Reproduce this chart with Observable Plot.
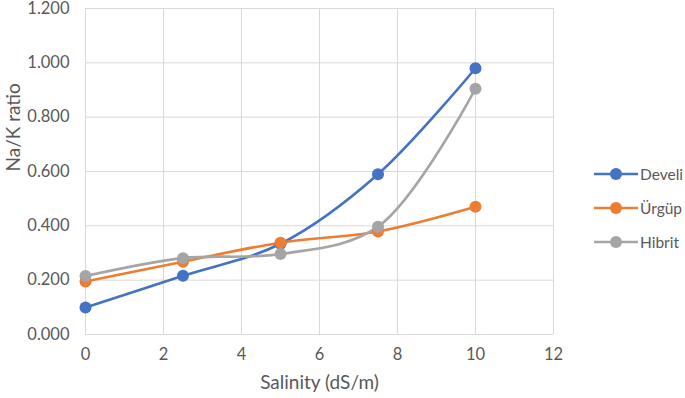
<!DOCTYPE html>
<html><head><meta charset="utf-8">
<script src="https://cdn.jsdelivr.net/npm/d3@7"></script>
<script src="https://cdn.jsdelivr.net/npm/@observablehq/plot@0.6"></script>
<style>
body{margin:0;background:#fff;font-family:Lato,"Open Sans",sans-serif;}
#wrap{position:relative;width:685px;height:398px;}
#legend{position:absolute;left:594px;top:157px;font-size:15.5px;color:#595959;}
#legend .row{display:flex;align-items:center;height:34px;}
#legend svg{margin-right:2px;}
</style></head><body>
<div id="wrap"><div id="chart"></div><div id="legend"></div></div>
<script>
const salinity = [0, 2.5, 5, 7.5, 10];
const develi = [0.099, 0.216, 0.334, 0.590, 0.980];
const urgup = [0.195, 0.268, 0.338, 0.379, 0.470];
const hibrit = [0.215, 0.281, 0.296, 0.397, 0.905];
const seriesNames = ["Develi", "Ürgüp", "Hibrit"];
const seriesColors = ["#4472C4", "#ED7D31", "#A5A5A5"];
const xTicks = [0, 2, 4, 6, 8, 10, 12];
const yTicks = [0, 0.2, 0.4, 0.6, 0.8, 1.0, 1.2];
const xLabel = "Salinity (dS/m)";
const yLabel = "Na/K ratio";

const seriesValues = [develi, urgup, hibrit];
const data = [];
seriesNames.forEach((name, i) => salinity.forEach((x, j) => data.push({series: name, x, y: seriesValues[i][j]})));

const plot = Plot.plot({
  width: 685, height: 398,
  marginLeft: 85, marginRight: 132, marginTop: 8, marginBottom: 64,
  style: {fontFamily: "Lato, 'Open Sans', sans-serif", fontSize: "16.5px", color: "#595959"},
  x: {domain: [0, 12], ticks: xTicks, tickSize: 0, tickPadding: 14, label: null},
  y: {domain: [0, 1.2], ticks: yTicks, tickSize: 0, tickPadding: 16, tickFormat: d3.format(".3f"), label: null},
  color: {domain: seriesNames, range: seriesColors},
  marks: [
    Plot.ruleX(xTicks, {stroke: "#d9d9d9", strokeWidth: 1}),
    Plot.ruleY(yTicks, {stroke: "#d9d9d9", strokeWidth: 1}),
    Plot.line(data, {x: "x", y: "y", z: "series", stroke: "series", strokeWidth: 2.6, curve: "catmull-rom"}),
    Plot.dot(data, {x: "x", y: "y", fill: "series", r: 6}),
    Plot.text([xLabel], {text: d => d, frameAnchor: "bottom", dy: 54, fontSize: 19, fill: "#595959"}),
    Plot.text([yLabel], {text: d => d, frameAnchor: "left", dx: -72, rotate: -90, fontSize: 19, fill: "#595959"})
  ]
});
plot.querySelectorAll("text").forEach(t => t.setAttribute("fill", "#595959"));
document.getElementById("chart").appendChild(plot);

const legend = document.getElementById("legend");
seriesNames.forEach((name, i) => {
  const row = document.createElement("div");
  row.className = "row";
  row.innerHTML = `<svg width="44" height="14"><line x1="0" x2="44" y1="7" y2="7" stroke="${seriesColors[i]}" stroke-width="2.6"/><circle cx="22" cy="7" r="6" fill="${seriesColors[i]}"/></svg><span>${name}</span>`;
  legend.appendChild(row);
});
</script>
</body></html>
